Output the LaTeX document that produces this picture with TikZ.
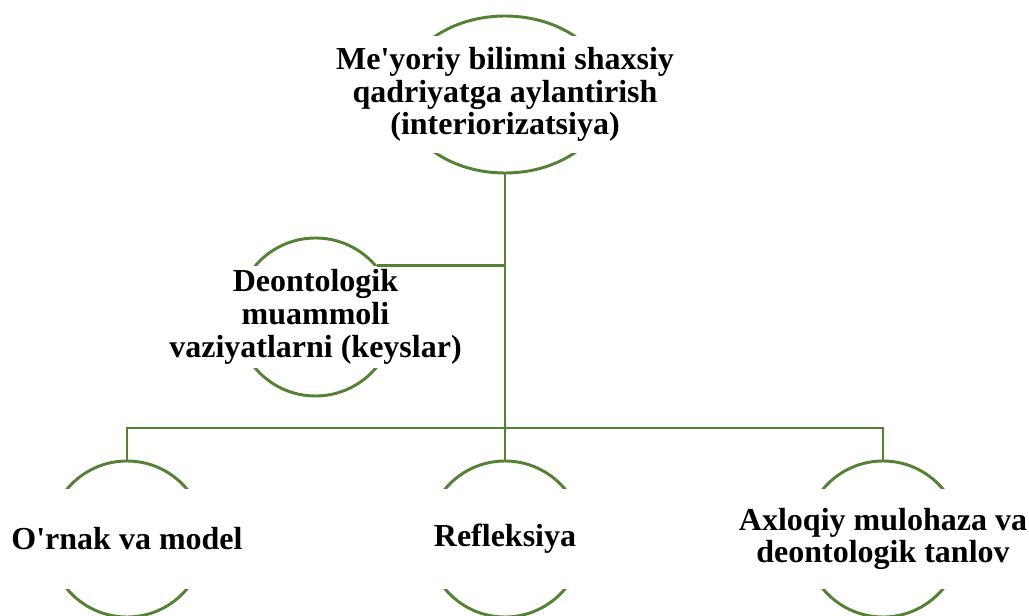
\documentclass[tikz,border=0pt]{standalone}
\usepackage{fontspec}
\setmainfont[Ligatures=NoCommon]{Liberation Serif}
\usetikzlibrary{shapes.geometric}
\definecolor{leaf}{RGB}{84,130,53}

\begin{document}
\begin{tikzpicture}[x=0.75pt,y=-0.75pt]
\tikzstyle{bubble}=[circle,draw=leaf,line width=2.2pt,inner sep=0pt,minimum size=117pt]
\tikzstyle{bubbletext}=[fill=white,inner sep=0pt,align=center,font=\bfseries\fontsize{24}{24.5}\selectfont]
\tikzstyle{link}=[draw=leaf,line width=2.2pt]
\useasboundingbox (0,0) rectangle (1029,616);
\node (goal) [ellipse,draw=leaf,line width=2.2pt,inner sep=0pt,minimum width=156pt,minimum height=117.75pt] at (505,94.5) {};
\node (goaltext) [bubbletext,minimum width=170pt,minimum height=87.75pt] at (goal) {Me\textquotesingle yoriy bilimni shaxsiy\\qadriyatga aylantirish\\(interiorizatsiya)};
\node (cases) [bubble,minimum size=118.5pt] at (315.5,317) {};
\node (casestext) [bubbletext,minimum width=130pt,minimum height=76.5pt] at (cases) {Deontologik\\muammoli\\vaziyatlarni (keyslar)};
\node (model) [bubble] at (127,539) {};
\node (modeltext) [bubbletext,minimum width=130pt,minimum height=75pt] at (model) {O\textquotesingle rnak va model};
\node (reflex) [bubble] at (505,539) {};
\node (reflextext) [bubbletext,minimum width=130pt,minimum height=75pt] at (reflex) {Refleksiya};
\node (choice) [bubble] at (883,539) {};
\node (choicetext) [bubbletext,minimum width=130pt,minimum height=75pt] at (choice) {Axloqiy mulohaza va\\deontologik tanlov};
\coordinate (hub) at (505,428);
\draw [link] (goal.south) -- (hub);
\draw [link] (cases.40) -- (cases.40 -| hub);
\draw [link] (model.north) |- (hub) -| (choice.north);
\draw [link] (hub) -- (reflex.north);
\end{tikzpicture}
\end{document}
